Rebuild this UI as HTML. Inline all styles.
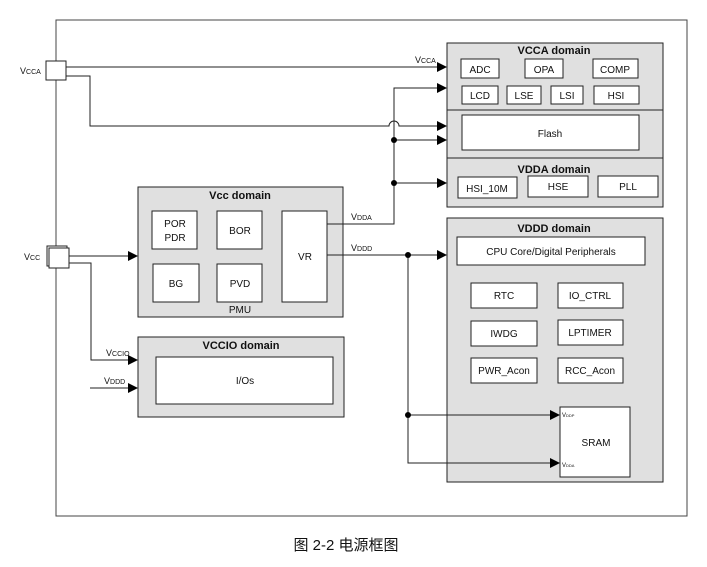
<!DOCTYPE html>
<html><head><meta charset="utf-8"><style>
body{margin:0;background:#fff;}
svg text{font-family:"Liberation Sans","Noto Sans CJK SC",sans-serif;fill:#111;}
</style></head><body>
<svg width="707" height="562" viewBox="0 0 707 562" xmlns="http://www.w3.org/2000/svg">
<defs><marker id="a" markerWidth="10" markerHeight="10" refX="9" refY="5" orient="auto" markerUnits="userSpaceOnUse"><path d="M0,0 L10,5 L0,10z" fill="#000"/></marker></defs>
<g fill="none" stroke="#222" stroke-width="1">
<rect x="56" y="20" width="631" height="496" stroke="#444"/>
<!-- domains -->
<rect x="447" y="43" width="216" height="164" fill="#e0e0e0"/>
<line x1="447" y1="110" x2="663" y2="110"/>
<line x1="447" y1="158" x2="663" y2="158"/>
<rect x="447" y="218" width="216" height="264" fill="#e0e0e0"/>
<rect x="138" y="187" width="205" height="130" fill="#e0e0e0"/>
<rect x="138" y="337" width="206" height="80" fill="#e0e0e0"/>
<g fill="#fff">
<rect x="461" y="59" width="38" height="19"/><rect x="525" y="59" width="38" height="19"/><rect x="593" y="59" width="45" height="19"/>
<rect x="462" y="86" width="36" height="18"/><rect x="507" y="86" width="34" height="18"/><rect x="551" y="86" width="32" height="18"/><rect x="594" y="86" width="45" height="18"/>
<rect x="462" y="115" width="177" height="35"/>
<rect x="458" y="177" width="59" height="21"/><rect x="528" y="176" width="60" height="21"/><rect x="598" y="176" width="60" height="21"/>
<rect x="457" y="237" width="188" height="28"/>
<rect x="471" y="283" width="66" height="25"/><rect x="558" y="283" width="65" height="25"/>
<rect x="471" y="321" width="66" height="25"/><rect x="558" y="320" width="65" height="25"/>
<rect x="471" y="358" width="66" height="25"/><rect x="558" y="358" width="65" height="25"/>
<rect x="560" y="407" width="70" height="70"/>
<rect x="152" y="211" width="45" height="38"/><rect x="217" y="211" width="45" height="38"/>
<rect x="153" y="264" width="46" height="38"/><rect x="217" y="264" width="45" height="38"/>
<rect x="282" y="211" width="45" height="91"/>
<rect x="156" y="357" width="177" height="47"/>
<rect x="47" y="246" width="20" height="20"/><rect x="49" y="248" width="20" height="20"/>
<rect x="46" y="61" width="20" height="19"/>
</g>
<!-- wires -->
<line x1="66" y1="67" x2="446" y2="67" marker-end="url(#a)"/>
<path d="M66,76 H90 V126 H389 A5,5 0 0 1 399,126 H446" marker-end="url(#a)"/>
<path d="M327,224 H394 V88 H446" marker-end="url(#a)"/>
<line x1="394" y1="140" x2="446" y2="140" marker-end="url(#a)"/>
<line x1="394" y1="183" x2="446" y2="183" marker-end="url(#a)"/>
<line x1="69" y1="256" x2="137" y2="256" marker-end="url(#a)"/>
<path d="M69,263 H91 V360 H137" marker-end="url(#a)"/>
<line x1="90" y1="388" x2="137" y2="388" marker-end="url(#a)"/>
<line x1="327" y1="255" x2="446" y2="255" marker-end="url(#a)"/>
<path d="M408,255 V463 H559" marker-end="url(#a)"/>
<line x1="408" y1="415" x2="559" y2="415" marker-end="url(#a)"/>
</g>
<g fill="#000"><circle cx="394" cy="140" r="3"/><circle cx="394" cy="183" r="3"/><circle cx="408" cy="255" r="3"/><circle cx="408" cy="415" r="3"/></g>
<g font-size="10" text-anchor="middle">
<text x="554" y="54" font-weight="bold" font-size="11">VCCA domain</text>
<text x="480" y="73">ADC</text><text x="544" y="73">OPA</text><text x="615" y="73">COMP</text>
<text x="480" y="99">LCD</text><text x="524" y="99">LSE</text><text x="567" y="99">LSI</text><text x="616" y="99">HSI</text>
<text x="550" y="137">Flash</text>
<text x="554" y="173" font-weight="bold" font-size="11">VDDA domain</text>
<text x="487" y="192">HSI_10M</text><text x="558" y="190">HSE</text><text x="628" y="190">PLL</text>
<text x="554" y="232" font-weight="bold" font-size="11">VDDD domain</text>
<text x="551" y="255">CPU Core/Digital Peripherals</text>
<text x="504" y="299">RTC</text><text x="590" y="299">IO_CTRL</text>
<text x="504" y="337">IWDG</text><text x="590" y="336">LPTIMER</text>
<text x="504" y="374">PWR_Acon</text><text x="590" y="374">RCC_Acon</text>
<text x="596" y="446">SRAM</text>
<text x="240" y="199" font-weight="bold" font-size="11">Vcc domain</text>
<text x="175" y="227">POR</text><text x="175" y="241">PDR</text>
<text x="240" y="234">BOR</text><text x="176" y="287">BG</text><text x="240" y="287">PVD</text>
<text x="305" y="260">VR</text><text x="240" y="313">PMU</text>
<text x="241" y="349" font-weight="bold" font-size="11">VCCIO domain</text>
<text x="245" y="384">I/Os</text>
</g>
<g font-size="9">
<text x="20" y="74">V<tspan font-size="7">CCA</tspan></text>
<text x="415" y="63">V<tspan font-size="7">CCA</tspan></text>
<text x="24" y="260">V<tspan font-size="7">CC</tspan></text>
<text x="351" y="220">V<tspan font-size="7">DDA</tspan></text>
<text x="351" y="251">V<tspan font-size="7">DDD</tspan></text>
<text x="106" y="356">V<tspan font-size="7">CCIO</tspan></text>
<text x="104" y="384">V<tspan font-size="7">DDD</tspan></text>
<text x="562" y="417" font-size="6">V<tspan font-size="4">DDP</tspan></text>
<text x="562" y="467" font-size="6">V<tspan font-size="4">DDA</tspan></text>
</g>
<text x="346" y="550" font-size="15" text-anchor="middle">图 2-2 电源框图</text>
</svg>
</body></html>
